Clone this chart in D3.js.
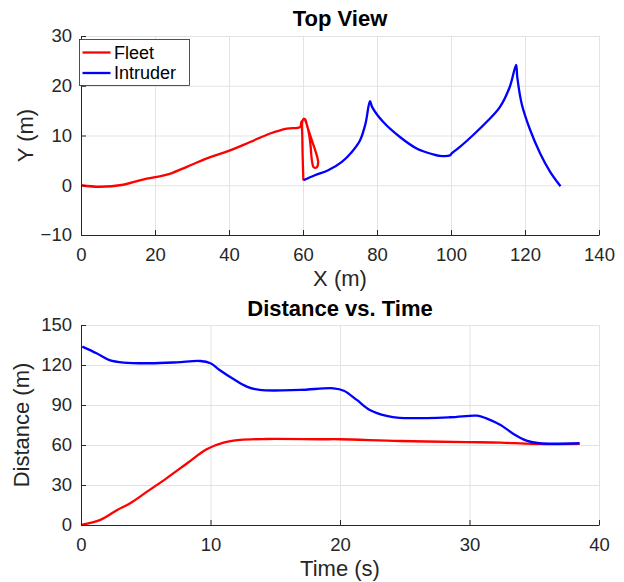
<!DOCTYPE html>
<html>
<head>
<meta charset="utf-8">
<script src="https://cdn.jsdelivr.net/npm/d3@7"></script>
<style>
  body { margin: 0; background: #fff; }
  svg { font-family: "Liberation Sans", Arial, sans-serif; }
  .grid line { stroke: #e3e3e3; stroke-width: 1; }
  .grid path { display: none; }
  .axis path, .axis line { stroke: #262626; stroke-width: 1; }
  .axis text { fill: #262626; font-size: 18.5px; }
</style>
</head>
<body>
<script>
// top view trajectories (m)
var fleetX = [0, 5.1, 11.4, 15.9, 20.5, 24, 28.6, 34, 40.3, 45.7, 51.1, 55.6, 59.2,
  59.6, 60.5, 61.2, 62.1, 63.0, 63.8, 64.1, 63.7, 62.9, 62.4, 62.1, 61.7,
  61.0, 60.3, 59.8, 59.8, 59.9, 60.1];
var fleetY = [0, -0.3, 0.1, 1.0, 1.7, 2.3, 3.7, 5.4, 7.0, 8.7, 10.4, 11.4, 11.7,
  12.8, 13.3, 11.7, 9.7, 7.7, 5.8, 4.6, 3.6, 3.6, 5.0, 7.5, 10.0,
  12.3, 13.4, 12.8, 10.0, 6.0, 1.0];

var intruderX = [60.1, 63.2, 66.8, 70.5, 73.2, 75.4, 76.9, 78.1, 78.7, 81.7, 86.2, 90.7,
  95.2, 97, 99.7, 100.2, 102.4, 106, 109.6, 113.2, 115.9, 117.6, 117.9, 119.1, 121.4,
  124.1, 126.8, 129.6];
var intruderY = [1.0, 2.0, 3.0, 4.7, 6.7, 9.0, 12.4, 16.9, 15.7, 12.7, 9.7, 7.4,
  6.2, 5.9, 6.0, 6.4, 7.7, 10.1, 12.7, 15.7, 19.8, 24.2, 21.8, 16.4, 11.1,
  6.4, 2.7, -0.2];

// distance vs time
var tFleet = [0, 1.5, 2.8, 3.8, 5.1, 6.6, 8.2, 9.7, 11, 12.3, 14.3, 18.5, 20, 24.6, 29.8, 32.4, 34.9, 38.5];
var dFleet = [0, 3.8, 11.3, 16.3, 25, 35, 46.3, 56.8, 61.8, 63.8, 64.5, 64.3, 64.3, 63, 62.2, 61.8, 60.8, 60.8];

var tIntruder = [0.1, 1.2, 2.2, 3.3, 5.3, 7.4, 9.2, 10, 10.7, 11.8, 12.8, 13.8, 16.9, 19.5, 20.3,
  21.3, 22.3, 23.6, 24.6, 28.5, 30.6, 31.3, 32.4, 33.4, 34.4, 35.4, 38.5];
var dIntruder = [133.8, 128.8, 123.7, 121.8, 121.3, 122.0, 123, 121.3, 116.3, 109.3, 103.8, 101.3, 101.3, 102.5, 100.7,
  93.8, 86.3, 81.8, 80.3, 80.8, 82, 80, 75, 68.3, 63.3, 61.3, 61.3];

var topXTicks = [0, 20, 40, 60, 80, 100, 120, 140];
var topYTicks = [-10, 0, 10, 20, 30];
var botXTicks = [0, 10, 20, 30, 40];
var botYTicks = [0, 30, 60, 90, 120, 150];

var seriesNames = ["Fleet", "Intruder"];
var seriesColors = ["#ff0000", "#0000ff"];

var svg = d3.select("body")
  .append("svg")
  .attr("width", 624)
  .attr("height", 582);

function zip(xs, ys) {
  return xs.map((x, i) => [x, ys[i]]);
}

function drawPanel(p) {
  var w = p.right - p.left,
    h = p.bottom - p.top;

  var x = d3.scaleLinear().domain(p.xDomain).range([0, w]);
  var y = d3.scaleLinear().domain(p.yDomain).range([h, 0]);

  var g = svg.append("g").attr("transform", "translate(" + p.left + "," + p.top + ")");

  // grid
  g.append("g")
    .attr("class", "grid")
    .attr("transform", "translate(0," + h + ")")
    .call(d3.axisBottom(x).tickValues(p.xTicks).tickSize(h).tickFormat(""))
    .selectAll("line")
    .attr("y2", -h);
  g.append("g")
    .attr("class", "grid")
    .call(d3.axisLeft(y).tickValues(p.yTicks).tickSize(-w).tickFormat(""));

  var line = d3.line()
    .x((d) => x(d[0]))
    .y((d) => y(d[1]))
    .curve(d3.curveCatmullRom.alpha(0.5));

  p.series.forEach((s, i) => {
    g.append("path")
      .attr("d", line(s))
      .attr("fill", "none")
      .attr("stroke", seriesColors[i])
      .attr("stroke-width", 2.3)
      .attr("stroke-linejoin", "round");
  });

  // axes (ticks point inward)
  g.append("g")
    .attr("class", "axis")
    .attr("transform", "translate(0," + h + ")")
    .call(d3.axisBottom(x).tickValues(p.xTicks).tickSizeInner(-5).tickSizeOuter(0).tickPadding(8))
    .selectAll("text")
    .attr("dy", "0.95em");
  g.append("g")
    .attr("class", "axis")
    .call(d3.axisLeft(y).tickValues(p.yTicks).tickSizeInner(-5).tickSizeOuter(0).tickPadding(9));

  // title & labels
  svg.append("text")
    .attr("x", p.left + w / 2)
    .attr("y", p.titleY)
    .attr("text-anchor", "middle")
    .style("font-size", "22px")
    .style("font-weight", "bold")
    .attr("fill", "#000")
    .text(p.title);

  svg.append("text")
    .attr("x", p.left + w / 2)
    .attr("y", p.xLabelY)
    .attr("text-anchor", "middle")
    .style("font-size", "22px")
    .attr("fill", "#262626")
    .text(p.xLabel);

  svg.append("text")
    .attr("transform", "translate(" + p.yLabelX + "," + (p.top + h / 2) + ") rotate(-90)")
    .attr("text-anchor", "middle")
    .style("font-size", "22px")
    .attr("fill", "#262626")
    .text(p.yLabel);

  return g;
}

drawPanel({
  left: 81, right: 599, top: 36, bottom: 235,
  xDomain: [0, 140], yDomain: [-10, 30],
  xTicks: topXTicks, yTicks: topYTicks,
  series: [zip(fleetX, fleetY), zip(intruderX, intruderY)],
  title: "Top View", titleY: 26,
  xLabel: "X (m)", xLabelY: 286,
  yLabel: "Y (m)", yLabelX: 33
});

drawPanel({
  left: 81, right: 599, top: 325, bottom: 525,
  xDomain: [0, 40], yDomain: [0, 150],
  xTicks: botXTicks, yTicks: botYTicks,
  series: [zip(tFleet, dFleet), zip(tIntruder, dIntruder)],
  title: "Distance vs. Time", titleY: 316,
  xLabel: "Time (s)", xLabelY: 576,
  yLabel: "Distance (m)", yLabelX: 29
});

// legend
var legend = svg.append("g").attr("transform", "translate(79.5,39.5)");
legend.append("rect")
  .attr("width", 110)
  .attr("height", 46)
  .attr("fill", "#fff")
  .attr("stroke", "#262626")
  .attr("stroke-width", 0.8);

seriesNames.forEach((name, i) => {
  var yy = 13 + i * 20.5;
  legend.append("line")
    .attr("x1", 3).attr("x2", 31)
    .attr("y1", yy).attr("y2", yy)
    .attr("stroke", seriesColors[i])
    .attr("stroke-width", 2.3);
  legend.append("text")
    .attr("x", 34.5)
    .attr("y", yy)
    .attr("dy", "0.36em")
    .style("font-size", "18px")
    .attr("fill", "#000")
    .text(name);
});
</script>
</body>
</html>
